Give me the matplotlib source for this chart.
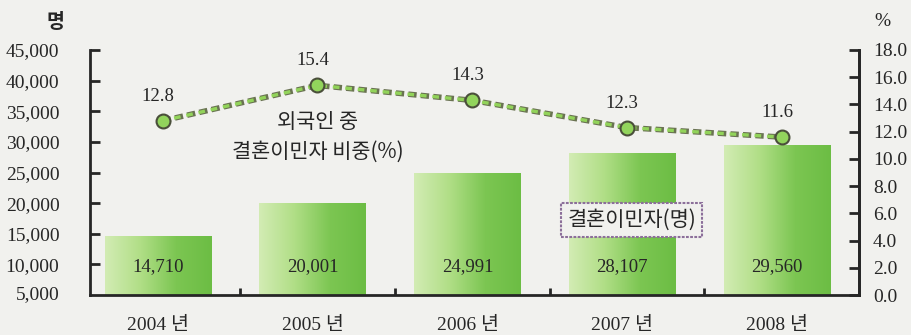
import numpy as np
import matplotlib.pyplot as plt
from matplotlib.colors import LinearSegmentedColormap

years = ['2004', '2005', '2006', '2007', '2008']
migrants = [14710, 20001, 24991, 28107, 29560]
share = [12.8, 15.4, 14.3, 12.3, 11.6]
left_ticks = [10000, 15000, 20000, 25000, 30000, 35000, 40000, 45000]
left_labels = ['10,000', '15,000', '20,000', '25,000', '30,000', '35,000', '40,000', '45,000']
right_ticks = [0, 2, 4, 6, 8, 10, 12, 14, 16, 18]

serif = ['Liberation Serif', 'Noto Sans CJK KR']
kr = ['Noto Sans CJK KR', 'DejaVu Sans']
ink = '#262626'
paper = '#f1f1ee'
plt.rcParams['lines.scale_dashes'] = False

fig = plt.figure(figsize=(9.11, 3.35), dpi=100, facecolor=paper)
ax = fig.add_axes([90 / 911, 40 / 335, 769 / 911, 245 / 335])
ax.set_facecolor('none')

x = np.arange(len(years))
base = 5000
bars = ax.bar(x - 0.03, [v - base for v in migrants], width=0.69, bottom=base,
              color='#9fd47a', linewidth=0, zorder=2)

# horizontal pale-to-green fill inside each bar
cmap = LinearSegmentedColormap.from_list('bar', ['#d3ecb4', '#b0de86', '#7cc652', '#6cbd44'])
grad = np.linspace(0, 1, 256).reshape(1, -1)
for b in bars:
    x0, y0 = b.get_x(), b.get_y()
    im = ax.imshow(grad, cmap=cmap, aspect='auto', zorder=2.1,
                   extent=[x0, x0 + b.get_width(), y0, y0 + b.get_height()])
    im.set_clip_path(b)

for xi, v in zip(x, migrants):
    ax.text(xi - 0.03, 9700, f'{v:,}', ha='center', va='center',
            fontsize=13.5, family=serif, color=ink, zorder=5)

ax.set_xlim(-0.47, 4.5)
ax.set_ylim(5000, 45000)
ax.set_yticks(left_ticks)
ax.set_yticklabels(left_labels, family=serif, fontsize=14, color=ink)
ax.tick_params(axis='y', direction='in', length=7, width=2, color=ink, pad=22)
ax.set_xticks(x - 0.03)
ax.set_xticklabels([f'{y} 년' for y in years], family=serif, fontsize=14, color=ink)
ax.tick_params(axis='x', length=0, pad=16)
ax.set_xticks([0.5, 1.5, 2.5, 3.5], minor=True)
ax.tick_params(axis='x', which='minor', direction='in', length=5, width=2, color=ink)
ax.spines['top'].set_visible(False)
for s in ['left', 'bottom', 'right']:
    ax.spines[s].set_linewidth(2)
    ax.spines[s].set_color(ink)

# the 5,000 label sits level with the baseline
ax.text(-0.039, 5000, '5,000', transform=ax.get_yaxis_transform(),
        ha='right', va='center', fontsize=14, family=serif, color=ink)
fig.text(55 / 911, 1 - 23 / 335, '명', ha='center', va='center',
         fontsize=14, family=kr, color=ink, fontweight='bold')

ax2 = ax.twinx()
ax2.set_ylim(0, 18)
ax2.set_yticks(right_ticks)
ax2.set_yticklabels([f'{t:.1f}' for t in right_ticks], family=serif, fontsize=14, color=ink)
ax2.tick_params(axis='y', direction='in', length=7, width=2, color=ink, pad=10)
for s in ['top', 'left', 'bottom']:
    ax2.spines[s].set_visible(False)
ax2.spines['right'].set_linewidth(2)
ax2.spines['right'].set_color(ink)
fig.text(882 / 911, 1 - 22 / 335, '%', ha='center', va='center',
         fontsize=14, family=serif, color=ink)

# dashed line: rimmed dashes with a green core
ax2.plot(x, share, color='#6a7352', lw=4.0, ls=(0, (6, 3)), zorder=3.1)
ax2.plot(x, share, color='#92d35a', lw=2.4, ls=(0.6, (4.8, 4.2)), zorder=3.2)
ax2.plot(x, share, 'o', ms=10, mfc='#92d45c', mec='#4a4f3a', mew=1.5, zorder=4)
for xi, v in zip(x, share):
    ax2.text(xi - 0.03, v + 1.8, f'{v:.1f}', ha='center', va='center',
             fontsize=13.5, family=serif, color=ink)

ax2.text(1.0, 12.7, '외국인 중', ha='center', va='center',
         fontsize=15, family=kr, color=ink)
ax2.text(1.0, 10.5, '결혼이민자 비중(%)', ha='center', va='center',
         fontsize=15, family=kr, color=ink)
ax2.text(3.03, 5.5, '결혼이민자(명)', ha='center', va='center',
         fontsize=15, family=kr, color=ink, zorder=6,
         bbox=dict(boxstyle='square,pad=0.3', fc=paper, ec='#8c6f9a',
                   lw=1.5, ls=(0, (2, 1))))

fig.savefig('out.png', dpi=100, facecolor=paper)
